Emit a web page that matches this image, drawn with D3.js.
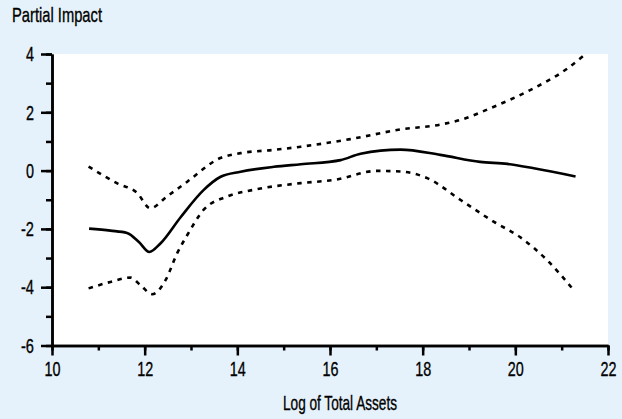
<!DOCTYPE html>
<html><head><meta charset="utf-8">
<script src="https://cdn.jsdelivr.net/npm/d3@7"></script>
<style>
html,body{margin:0;padding:0;background:#e6f2fb;}
text{font-family:"Liberation Sans Narrow","Liberation Sans",Arial,sans-serif;fill:#000;}
</style></head><body>
<svg id="c" width="622" height="419"></svg>
<script>
const xTicks = [10,12,14,16,18,20,22];
const yTicks = [-6,-4,-2,0,2,4];
const estX = [10.8,11.26,11.62,11.87,12.1,12.34,12.78,13.27,13.63,14.07,14.79,15.37,16.23,16.66,17.52,18.38,19.24,19.83,20.4,21.3];
const estY = [-1.99,-2.06,-2.14,-2.44,-2.79,-2.5,-1.59,-0.67,-0.22,-0.04,0.13,0.22,0.36,0.58,0.72,0.54,0.3,0.23,0.08,-0.2];
const upX = [10.79,11.4,11.84,12.12,12.48,12.92,13.63,14.07,14.79,15.37,16.44,17.52,18.38,18.82,19.46,20.33,21.12,21.48];
const upY = [0.14,-0.43,-0.77,-1.29,-0.89,-0.38,0.43,0.6,0.71,0.82,1.08,1.41,1.58,1.74,2.14,2.77,3.5,3.95];
const loX = [10.79,11.26,11.69,11.91,12.16,12.45,12.7,12.92,13.27,13.78,14.35,15.37,16.09,17.02,17.52,18.1,18.82,19.54,20.1,20.69,21.27];
const loY = [-4.04,-3.82,-3.67,-3.93,-4.24,-3.76,-2.84,-2.21,-1.35,-0.89,-0.66,-0.43,-0.32,-0.01,-0.03,-0.26,-1.01,-1.76,-2.28,-3.08,-4.12];

const svg = d3.select("#c");
const L=52, R=608, T=54, B=345.5;
const x = d3.scaleLinear().domain([10,22]).range([L,R]);
const y = d3.scaleLinear().domain([-6,4]).range([B,T]);

svg.append("rect").attr("x",L).attr("y",T).attr("width",R-L).attr("height",B-T).attr("fill","#fff");

const line = d3.line().x(d=>x(d[0])).y(d=>y(d[1])).curve(d3.curveMonotoneX);
const zip=(a,b)=>a.map((v,i)=>[v,b[i]]);
svg.append("path").attr("d",line(zip(upX,upY))).attr("fill","none").attr("stroke","#000").attr("stroke-width",2.6).attr("stroke-dasharray","4.5,5.5");
svg.append("path").attr("d",line(zip(loX,loY))).attr("fill","none").attr("stroke","#000").attr("stroke-width",2.6).attr("stroke-dasharray","4.5,5.5");
svg.append("path").attr("d",line(zip(estX,estY))).attr("fill","none").attr("stroke","#000").attr("stroke-width",2.6);

const FONT='"Liberation Sans Narrow","Liberation Sans",Arial,sans-serif';
const FS=21;
function style(g){
  g.selectAll("path,line").attr("stroke","#000").attr("stroke-width",2.5);
  g.selectAll("text").attr("font-size",FS).attr("fill","#000").attr("font-family",FONT)
    .attr("stroke","#000").attr("stroke-width",0.35);
}
const fmt = d => String(d);
// minor ticks
const minorX = d3.range(10,23,1), minorY = d3.range(-6,5,1);
svg.append("g").attr("transform",`translate(0,${B})`)
  .call(d3.axisBottom(x).tickValues(minorX).tickSize(5).tickSizeOuter(0).tickFormat(""))
  .call(style);
svg.append("g").attr("transform",`translate(${L},0)`)
  .call(d3.axisLeft(y).tickValues(minorY).tickSize(6).tickSizeOuter(0).tickFormat(""))
  .call(style);
// major ticks
const gx = svg.append("g").attr("transform",`translate(0,${B})`)
  .call(d3.axisBottom(x).tickValues(xTicks).tickSize(10).tickPadding(6).tickSizeOuter(0).tickFormat(fmt))
  .call(style);
const gy = svg.append("g").attr("transform",`translate(${L},0)`)
  .call(d3.axisLeft(y).tickValues(yTicks).tickSize(11).tickPadding(7).tickSizeOuter(0).tickFormat(fmt))
  .call(style);

const t1 = svg.append("text").attr("x",12).attr("y",22).attr("font-size",FS).attr("font-family",FONT)
  .attr("stroke","#000").attr("stroke-width",0.35).text("Partial Impact");
const t2 = svg.append("text").attr("x",340).attr("y",410).attr("font-size",FS).attr("font-family",FONT)
  .attr("stroke","#000").attr("stroke-width",0.35).attr("text-anchor","middle").text("Log of Total Assets");

// condense text to mimic the narrow face of the original
function condense(sel, target){
  sel.each(function(){
    const s = this.textContent;
    const tw = target ? target : Array.from(s).reduce((a,c)=>a+(c==="-"?5:8),0);
    this.setAttribute("textLength", tw);
    this.setAttribute("lengthAdjust","spacingAndGlyphs");
  });
}
condense(gx.selectAll("text"));
condense(gy.selectAll("text"));
condense(t1, 90);
condense(t2, 114);
</script></body></html>
